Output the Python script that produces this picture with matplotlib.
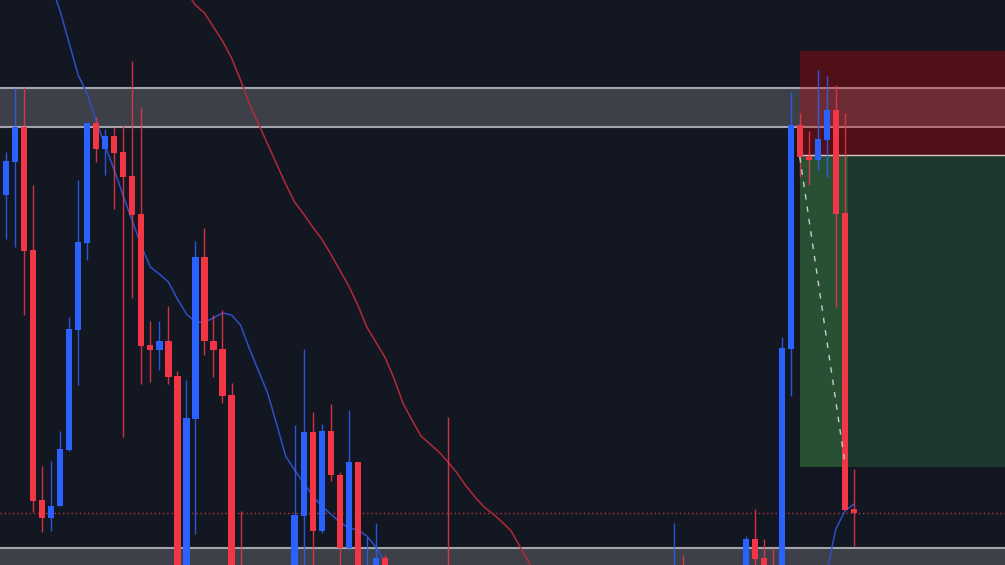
import matplotlib
matplotlib.use('Agg')
import matplotlib.pyplot as plt
import numpy as np

# price levels, in points below the top edge (axis is inverted)
bar = [0, 1, 2, 3, 4, 5, 6, 7, 8, 9, 10, 11, 12, 13, 14, 15, 16, 17, 18, 19, 20, 21, 22, 23, 24, 25, 26,
       32, 33, 34, 35, 36, 37, 38, 39, 40, 41, 42,
       49, 74, 75,
       82, 83, 84, 85, 86, 87, 88, 89, 90, 91, 92, 93, 94]
open_ = [195, 162, 127, 250, 500, 518, 506, 450, 330, 243, 123, 149, 136, 152, 176, 214, 345, 350, 341, 376, 610, 419, 257, 341, 349, 395, 578,
         600, 516, 432, 531, 431, 475, 548, 462, 612, 590, 558,
         590, 610, 585,
         592, 539, 558, 572, 610, 349, 125, 156, 160, 140, 110, 213, 509]
high = [152, 88, 87, 185, 466, 461, 431, 317, 180, 123, 117, 129, 127, 125, 61, 108, 321, 321, 306, 371, 380, 241, 228, 315, 310, 383, 511,
        425, 349, 412, 424, 404, 472, 410, 462, 537, 523, 555,
        417, 523, 555,
        536, 509, 539, 548, 337, 92, 113, 131, 70, 76, 85, 113, 469]
low = [239, 247, 315, 512, 532, 531, 506, 451, 385, 260, 162, 175, 209, 437, 298, 384, 382, 370, 384, 630, 640, 534, 355, 377, 403, 625, 600,
       630, 590, 590, 533, 481, 580, 550, 620, 640, 610, 600,
       620, 630, 610,
       610, 590, 600, 610, 630, 396, 177, 185, 170, 177, 307, 510, 546]
close = [161, 127, 251, 501, 518, 506, 449, 329, 242, 123, 149, 136, 153, 177, 215, 346, 350, 341, 377, 615, 418, 257, 341, 350, 396, 605, 590,
         515, 432, 531, 431, 475, 548, 462, 600, 575, 558, 585,
         605, 580, 600,
         539, 559, 590, 595, 348, 125, 157, 160, 139, 110, 214, 510, 513]

# moving averages (fast = blue, slow = red)
fast_bar = list(range(5, 44)) + [90, 91, 92, 93, 94]
fast_ma = [-15, 11, 43, 75, 94, 121, 146, 170, 196, 221, 246, 267, 274, 282, 299, 314, 322, 322, 318, 313, 315, 325,
           349, 371, 393, 424, 456, 470, 483, 496, 506, 514, 522, 528, 530, 536, 547, 562, 580,
           600, 572, 529, 511, 504]
slow_bar = list(range(20, 60))
slow_ma = [-8, 5, 13, 27, 41, 58, 80, 104, 124, 144, 164, 184, 202, 214, 227, 239, 254, 270, 286, 305, 327, 342, 357,
           378, 403, 420, 436, 444, 452, 462, 473, 486, 497, 507, 514, 522, 531, 547, 563, 580]

# zones
supply_zone = (88, 127)
demand_zone = (548, 600)
last_price = 513
entry, stop, target = 155, 51, 467
entry_bar, exit_bar = 88, 93.3

BG = '#131722'
UP = '#2962ff'
DOWN = '#f23645'

fig = plt.figure(figsize=(10.05, 5.65), dpi=100, facecolor=BG)
ax = fig.add_axes([0, 0, 1, 1])
ax.set_facecolor(BG)
x_min, x_max = -0.665, 110.75
ax.set_xlim(x_min, x_max)
ax.set_ylim(565, 0)
ax.axis('off')

# grey zones
for top, bottom in (supply_zone, demand_zone):
    ax.axhspan(top, bottom, color='#3d4048', zorder=1, lw=0)
    ax.axhline(top, color='#a3a5ab', lw=1.5, zorder=1.5)
    if bottom < 565:
        ax.axhline(bottom, color='#a3a5ab', lw=1.5, zorder=1.5)

# short position tool
ax.fill_between([entry_bar, x_max], stop, entry, color='#de0004', alpha=0.3, lw=0, zorder=2)
ax.fill_between([entry_bar, x_max], entry, target, color='#1f382d', lw=0, zorder=2)
ax.fill_between([entry_bar, exit_bar], entry, target, color='#2a5034', lw=0, zorder=2.1)
ax.plot([entry_bar, x_max], [entry, entry], color='#d8c4c4', lw=1, zorder=2.2)
ax.plot([entry_bar, exit_bar - 0.3], [entry + 2, target - 4], color='#c8cbd0', lw=1,
        ls=(0, (4, 5)), zorder=5)

# last price line
ax.axhline(last_price, color='#c03443', lw=1, ls=(0, (1, 2)), zorder=2.5)

# moving averages
ax.plot(slow_bar, slow_ma, color='#b22a37', lw=1.1, zorder=3)
ax.plot(fast_bar[:39], fast_ma[:39], color='#2d50c8', lw=1.1, zorder=3)
ax.plot(fast_bar[39:], fast_ma[39:], color='#2d50c8', lw=1.1, zorder=3)

# candles
o = np.array(open_, dtype=float)
c = np.array(close, dtype=float)
bull = c < o
colors = np.where(bull, UP, DOWN)
ax.vlines(bar, high, low, colors=colors, lw=1, alpha=0.85, zorder=4)
body = np.maximum(np.abs(c - o), 2)
ax.bar(bar, body, bottom=np.minimum(o, c), width=0.7, color=colors, lw=0, zorder=4.5)

plt.savefig('out.png', dpi=100, facecolor=BG)
